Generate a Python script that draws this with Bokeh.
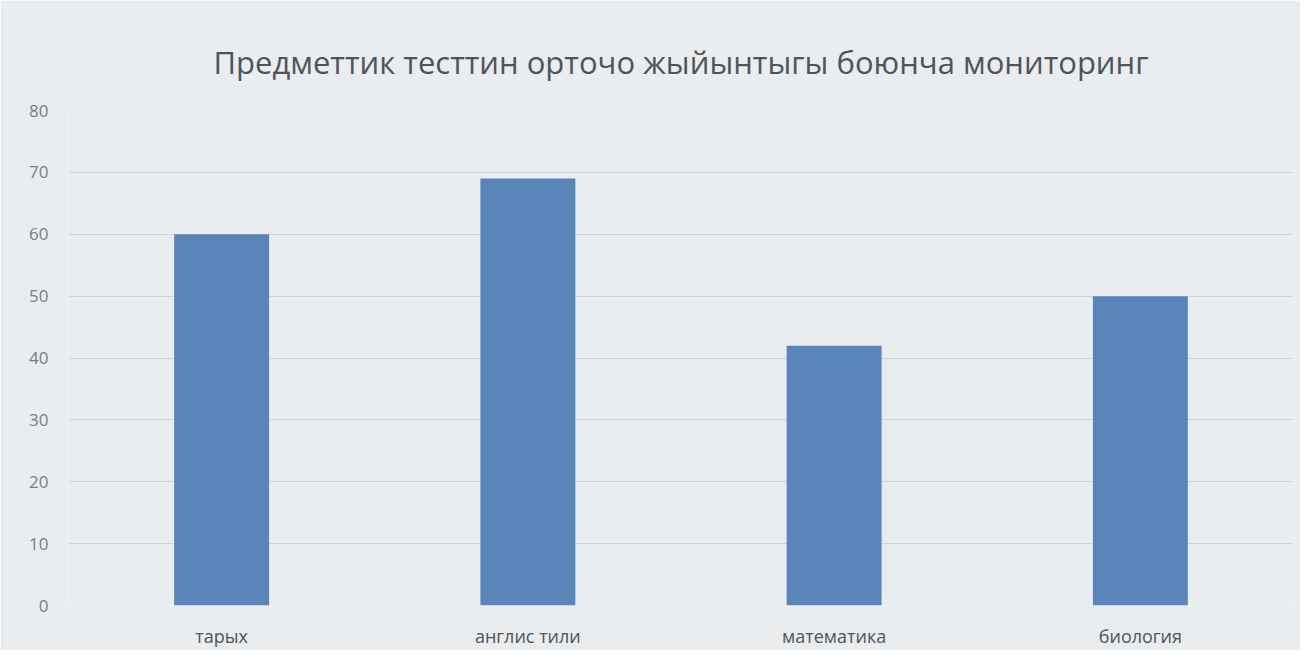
from bokeh.plotting import figure
from bokeh.embed import file_html
from bokeh.resources import INLINE
from bokeh.models import Range1d, FixedTicker, Title

categories = ["тарых", "англис тили", "математика", "биология"]
values = [60, 69, 42, 50]
y_ticks = [0, 10, 20, 30, 40, 50, 60, 70, 80]
title_text = "Предметтик тесттин орточо жыйынтыгы боюнча мониторинг"

bg = "#e9edf0"

p = figure(x_range=categories, y_range=Range1d(0, 80), width=1300, height=650,
           output_backend="svg", toolbar_location=None,
           min_border_left=68, min_border_right=7, min_border_bottom=20, min_border_top=0)

# spacer above the main title
p.title = Title(text=" ", text_font_size="4px", standoff=3)

main_title = Title(text=title_text, text_font="Open Sans", text_font_size="31px",
                   text_font_style="normal", text_color="#505458", align="center",
                   standoff=56)
p.add_layout(main_title, "above")

p.vbar(x=categories, top=values, width=0.31, fill_color="#5985b8", line_color=None)

p.background_fill_color = bg
p.border_fill_color = bg
p.outline_line_color = None

p.yaxis.ticker = FixedTicker(ticks=y_ticks)
p.yaxis.axis_line_color = None
p.yaxis.major_tick_line_color = None
p.yaxis.minor_tick_line_color = None
p.yaxis.major_label_text_font = "Open Sans"
p.yaxis.major_label_text_font_size = "17px"
p.yaxis.major_label_text_color = "#7a7e82"
p.yaxis.major_label_standoff = 14

p.xaxis.axis_line_color = None
p.xaxis.major_tick_line_color = None
p.xaxis.major_label_text_font = "Open Sans"
p.xaxis.major_label_text_font_size = "18px"
p.xaxis.major_label_text_color = "#505458"
p.xaxis.major_label_standoff = 12

p.xgrid.grid_line_color = None
p.ygrid.grid_line_color = "#cfd4d9"
p.ygrid.grid_line_width = 1

open("out.html", "w").write(file_html(p, INLINE))
